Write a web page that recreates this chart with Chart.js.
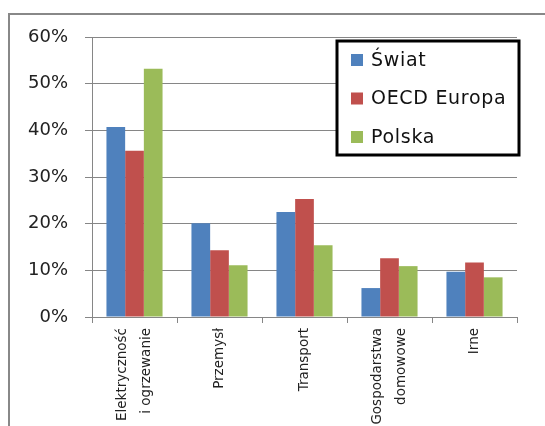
<!DOCTYPE html>
<html>
<head>
<meta charset="utf-8">
<script src="https://cdn.jsdelivr.net/npm/chart.js@4/dist/chart.umd.min.js"></script>
<style>
  html, body { margin: 0; padding: 0; background: #fff; overflow: hidden; }
  #wrap { position: relative; width: 545px; height: 426px; overflow: hidden; }
  #frame { position: absolute; left: 8px; top: 13px; width: 700px; height: 600px;
           border-left: 2px solid #888; border-top: 2px solid #888; box-sizing: border-box; }
  canvas { position: absolute; left: 0; top: 0; }
</style>
</head>
<body>
<div id="wrap">
  <div id="frame"></div>
  <canvas id="c" width="545" height="426"></canvas>
</div>
<script>
const categories = [
  ['Elektryczność', 'i ogrzewanie'],
  'Przemysł',
  'Transport',
  ['Gospodarstwa', 'domowowe'],
  'Irne'
];
const seriesNames = ['Świat', 'OECD Europa', 'Polska'];
const swiat = [40.7, 20.1, 22.5, 6.2, 9.7];
const oecdEuropa = [35.6, 14.3, 25.3, 12.6, 11.7];
const polska = [53.2, 11.1, 15.4, 10.9, 8.5];
const yTicks = [0, 10, 20, 30, 40, 50, 60];
const colors = ['#4F81BD', '#C0504D', '#9BBB59'];

// centre multi-line rotated category labels as a block on their tick
const centerLabels = {
  id: 'centerLabels',
  beforeDraw(chart) {
    const scale = chart.scales.x;
    const items = scale.getLabelItems(chart.chartArea);
    items.forEach(it => {
      if (it._centered) return;
      const n = Array.isArray(it.label) ? it.label.length : 1;
      it.textOffset -= (n - 1) * it.font.lineHeight / 2;
      it._centered = true;
    });
  }
};

const boxLegend = {
  id: 'boxLegend',
  afterDraw(chart) {
    const ctx = chart.ctx;
    const x0 = 337, y0 = 41, w = 182, h = 114;
    ctx.save();
    ctx.fillStyle = '#fff';
    ctx.fillRect(x0, y0, w, h);
    ctx.strokeStyle = '#000';
    ctx.lineWidth = 3;
    ctx.strokeRect(x0, y0, w, h);
    ctx.font = '19px "DejaVu Sans"';
    if ('letterSpacing' in ctx) ctx.letterSpacing = '0.7px';
    ctx.textBaseline = 'middle';
    chart.data.datasets.forEach((ds, i) => {
      const cy = 60 + i * 38.5;
      ctx.fillStyle = ds.backgroundColor;
      ctx.fillRect(351, cy - 6, 12, 12);
      ctx.fillStyle = '#111';
      ctx.fillText(ds.label, 371, cy + 1);
    });
    ctx.restore();
  }
};

new Chart(document.getElementById('c'), {
  type: 'bar',
  data: {
    labels: categories,
    datasets: [
      { label: seriesNames[0], data: swiat, backgroundColor: colors[0] },
      { label: seriesNames[1], data: oecdEuropa, backgroundColor: colors[1] },
      { label: seriesNames[2], data: polska, backgroundColor: colors[2] }
    ]
  },
  options: {
    responsive: false,
    animation: false,
    layout: { padding: { left: 0, right: 28, top: 37, bottom: 0 } },
    datasets: { bar: { categoryPercentage: 0.66, barPercentage: 1.0 } },
    plugins: { legend: { display: false }, tooltip: { enabled: false } },
    scales: {
      x: {
        grid: { offset: true, drawOnChartArea: false, drawTicks: true, tickLength: 6, color: '#868686' },
        border: { color: '#868686' },
        ticks: {
          minRotation: 90, maxRotation: 90, padding: 5, color: '#222',
          font: { family: 'DejaVu Sans', size: 13.5, lineHeight: 1.85 }
        },
        afterFit(scale) { scale.height = 109; }
      },
      y: {
        min: 0, max: 60,
        afterBuildTicks(scale) { scale.ticks = yTicks.map(v => ({ value: v })); },
        grid: { color: '#868686', tickLength: 7, drawTicks: true },
        border: { color: '#868686' },
        ticks: {
          padding: 17, color: '#222',
          font: { family: 'DejaVu Sans', size: 18 },
          callback: v => v + '%'
        },
        afterFit(scale) { scale.width = 92; }
      }
    }
  },
  plugins: [centerLabels, boxLegend]
});
</script>
</body>
</html>
